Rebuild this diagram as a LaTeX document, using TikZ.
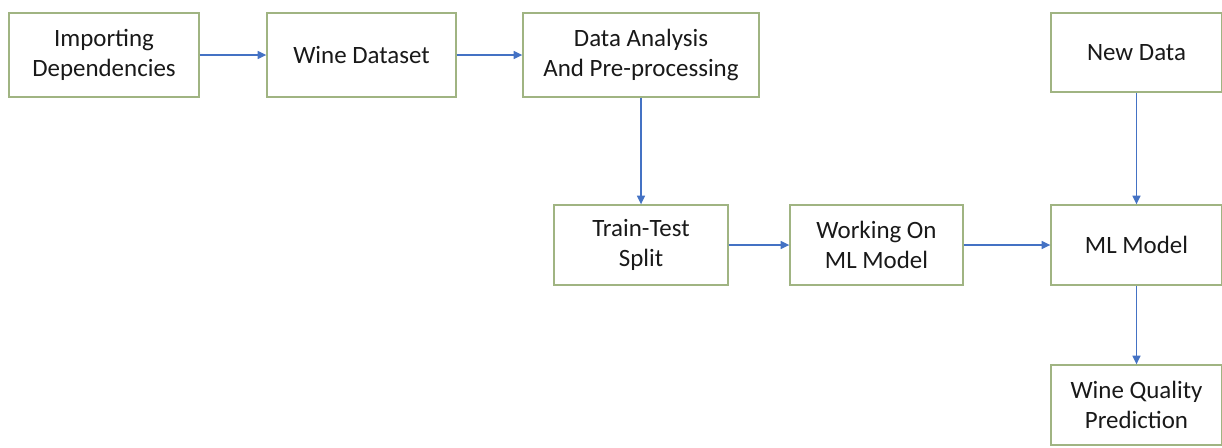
\documentclass[tikz,border=0pt]{standalone}
\usepackage{fontspec}
\setmainfont{Carlito}
\usetikzlibrary{arrows.meta}
\definecolor{boxline}{RGB}{160,180,130}
\definecolor{arrowblue}{RGB}{68,114,196}
\begin{document}
\begin{tikzpicture}[x=0.75pt,y=-0.75pt,
  flowbox/.style={draw=boxline,line width=1pt,fill=white,inner sep=0pt,align=center,
    font=\fontsize{18.7}{22}\selectfont,text=black!90},
  conn/.style={draw=arrowblue,line width=1pt,-{Triangle[length=6.5pt,width=6pt]}}]
\useasboundingbox (0,0) rectangle (1222,447);
\node[flowbox,minimum width=190*0.75pt,minimum height=84*0.75pt] (imp) at (104,55) {Importing\\Dependencies};
\node[flowbox,minimum width=189*0.75pt,minimum height=84*0.75pt] (wine) at (361.5,55) {Wine Dataset};
\node[flowbox,minimum width=236*0.75pt,minimum height=84*0.75pt] (ana) at (641,55) {Data Analysis\\And Pre-processing};
\node[flowbox,minimum width=171*0.75pt,minimum height=79*0.75pt] (new) at (1136.5,52.5) {New Data};
\node[flowbox,minimum width=174*0.75pt,minimum height=80*0.75pt] (tts) at (641,245) {Train-Test\\Split};
\node[flowbox,minimum width=173*0.75pt,minimum height=80*0.75pt] (work) at (876.5,245) {Working On\\ML Model};
\node[flowbox,minimum width=171*0.75pt,minimum height=80*0.75pt] (ml) at (1136.5,245) {ML Model};
\node[flowbox,minimum width=171*0.75pt,minimum height=80*0.75pt] (wqp) at (1136.5,405) {Wine Quality\\Prediction};
\draw[conn] (imp) -- (wine);
\draw[conn] (wine) -- (ana);
\draw[conn] (ana) -- (tts);
\draw[conn] (new) -- (ml);
\draw[conn] (tts) -- (work);
\draw[conn] (work) -- (ml);
\draw[conn] (ml) -- (wqp);
\end{tikzpicture}
\end{document}
